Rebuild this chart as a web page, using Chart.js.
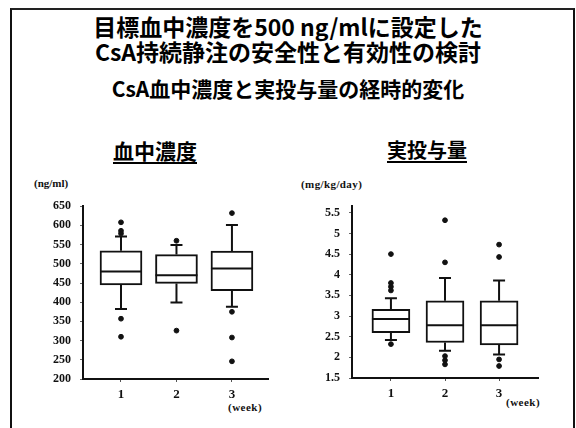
<!DOCTYPE html>
<html lang="ja">
<head>
<meta charset="utf-8">
<script src="https://cdn.jsdelivr.net/npm/chart.js@4.4.1/dist/chart.umd.min.js"></script>
<style>
  html, body { margin: 0; padding: 0; background: #fff; }
  body { width: 576px; height: 428px; position: relative; overflow: hidden;
         font-family: "Noto Sans CJK JP", "Noto Sans", sans-serif; color: #000; }
  .frame { position: absolute; left: 10px; top: 8px; width: 561px; height: 440px;
           border-left: 2px solid #111; border-top: 2px solid #222; border-right: 2px solid #111; }
  .t { position: absolute; left: 0; width: 576px; text-align: center; font-weight: 700;
       white-space: nowrap; line-height: 1; }
  .sub { position: absolute; font-weight: 700; text-decoration: underline;
         text-underline-offset: 3px; text-decoration-thickness: 2px; white-space: nowrap; line-height: 1; }
  .unit, .wk { position: absolute; font-family: "Liberation Serif", serif; font-weight: 700;
               font-size: 11px; white-space: nowrap; line-height: 1; color: #111; }
  canvas { position: absolute; }
</style>
</head>
<body>
<div class="frame"></div>
<div class="t" style="top:15px;font-size:23px;">目標血中濃度を500 ng/mlに設定した</div>
<div class="t" style="top:40px;font-size:23px;">CsA持続静注の安全性と有効性の検討</div>
<div class="t" style="top:78px;font-size:21px;">CsA血中濃度と実投与量の経時的変化</div>
<div class="sub" style="left:113px;top:140px;font-size:21px;">血中濃度</div>
<div class="sub" style="left:387px;top:140px;font-size:20px;">実投与量</div>
<div class="unit" style="left:34px;top:178px;">(ng/ml)</div>
<div class="unit" style="left:301px;top:179px;letter-spacing:0.4px;">(mg/kg/day)</div>
<div class="wk" style="left:228px;top:402px;letter-spacing:0.5px;">(week)</div>
<div class="wk" style="left:506px;top:397px;letter-spacing:0.5px;">(week)</div>

<canvas id="conc" width="260" height="230" style="left:20px;top:190px;"></canvas>
<canvas id="dose" width="260" height="230" style="left:290px;top:190px;"></canvas>

<script>
// Weeks of continuous infusion
const weeks = [1, 2, 3];

// CsA blood concentration (ng/ml): box-plot statistics per week
const concWhiskerLow  = [382, 399, 388];
const concQ1          = [445, 449, 430];
const concMedian      = [480, 470, 488];
const concQ3          = [534, 524, 533];
const concWhiskerHigh = [571, 549, 601];
const concOutliers    = [[608, 586, 579, 357, 310], [560, 326], [632, 375, 308, 246]];
const concTicks       = [200, 250, 300, 350, 400, 450, 500, 550, 600, 650];

// Actual dose given (mg/kg/day): box-plot statistics per week
const doseWhiskerLow  = [2.42, 2.16, 2.07];
const doseQ1          = [2.60, 2.36, 2.30];
const doseMedian      = [2.93, 2.78, 2.78];
const doseQ3          = [3.16, 3.37, 3.37];
const doseWhiskerHigh = [3.43, 3.92, 3.86];
const doseOutliers    = [[4.50, 3.80, 3.71, 3.62, 2.32], [5.32, 4.30, 2.03, 1.93, 1.83], [4.73, 4.43, 1.95, 1.79]];
const doseTicks       = [1.5, 2, 2.5, 3, 3.5, 4, 4.5, 5, 5.5];

const INK = '#111';

// Whiskers, caps and median lines, positioned through the chart's scales
const boxWhiskers = {
  id: 'boxWhiskers',
  beforeDatasetsDraw(chart, args, opts) {
    const { ctx, scales: { x, y } } = chart;
    ctx.save();
    ctx.strokeStyle = INK;
    ctx.lineWidth = opts.lineWidth;
    opts.x.forEach((v, i) => {
      const px = x.getPixelForValue(v);
      const segs = [[opts.q3[i], opts.high[i]], [opts.q1[i], opts.low[i]]];
      segs.forEach(([from, to]) => {
        const y0 = y.getPixelForValue(from), y1 = y.getPixelForValue(to);
        ctx.beginPath();
        ctx.moveTo(px, y0);
        ctx.lineTo(px, y1);
        ctx.moveTo(px - opts.capWidth / 2, y1);
        ctx.lineTo(px + opts.capWidth / 2, y1);
        ctx.stroke();
      });
    });
    ctx.restore();
  },
  afterDatasetsDraw(chart, args, opts) {
    const { ctx, scales: { y } } = chart;
    const bars = chart.getDatasetMeta(0).data;
    ctx.save();
    ctx.strokeStyle = INK;
    ctx.lineWidth = opts.lineWidth;
    opts.median.forEach((m, i) => {
      const bar = bars[i];
      const py = y.getPixelForValue(m);
      ctx.beginPath();
      ctx.moveTo(bar.x - bar.width / 2, py);
      ctx.lineTo(bar.x + bar.width / 2, py);
      ctx.stroke();
    });
    ctx.restore();
  }
};

function boxChart(id, s) {
  const boxes = weeks.map((w, i) => ({ x: w, y: [s.q1[i], s.q3[i]] }));
  const outliers = [];
  weeks.forEach((w, i) => s.outliers[i].forEach(v => outliers.push({ x: w, y: v })));

  return new Chart(document.getElementById(id), {
    type: 'bar',
    data: {
      datasets: [
        { type: 'bar', data: boxes, backgroundColor: '#fff', borderColor: INK,
          borderWidth: 2, borderSkipped: false, barThickness: s.boxWidth },
        { type: 'scatter', data: outliers, backgroundColor: INK, borderColor: INK,
          pointRadius: 2.4, pointHoverRadius: 2.4 }
      ]
    },
    options: {
      responsive: false,
      animation: false,
      events: [],
      layout: { padding: s.padding },
      plugins: {
        legend: { display: false },
        tooltip: { enabled: false },
        boxWhiskers: { x: weeks, low: s.low, q1: s.q1, median: s.median, q3: s.q3, high: s.high,
                       capWidth: 12, lineWidth: 2 }
      },
      scales: {
        x: {
          type: 'linear', min: s.xMin, max: s.xMax, offset: false,
          afterBuildTicks: sc => { sc.ticks = weeks.map(v => ({ value: v })); },
          afterFit: sc => { sc.height = s.xAxisHeight; },
          border: { display: true, color: INK, width: 2 },
          grid: { offset: false, drawOnChartArea: false, drawTicks: true, tickLength: 3, color: '#555', lineWidth: 1 },
          ticks: { color: INK, padding: 5, font: { family: 'Liberation Serif', size: 13, weight: 'bold' },
                   callback: v => String(v) }
        },
        y: {
          min: s.yMin, max: s.yMax,
          afterBuildTicks: sc => { sc.ticks = s.ticks.map(v => ({ value: v })); },
          afterFit: sc => { sc.width = s.yAxisWidth; },
          border: { display: true, color: INK, width: 2 },
          grid: { drawOnChartArea: false, drawTicks: true, tickLength: 3, color: '#666', lineWidth: 1 },
          ticks: { color: INK, padding: 9, font: { family: 'Liberation Serif', size: 12, weight: 'bold' },
                   callback: v => String(v) }
        }
      }
    },
    plugins: [boxWhiskers]
  });
}

boxChart('conc', {
  low: concWhiskerLow, q1: concQ1, median: concMedian, q3: concQ3, high: concWhiskerHigh,
  outliers: concOutliers, ticks: concTicks, yMin: 200, yMax: 650,
  xMin: 0.315, xMax: 3.65, boxWidth: 42,
  yAxisWidth: 63, xAxisHeight: 41,
  padding: { left: 0, right: 12, top: 12, bottom: 0 }
});

boxChart('dose', {
  low: doseWhiskerLow, q1: doseQ1, median: doseMedian, q3: doseQ3, high: doseWhiskerHigh,
  outliers: doseOutliers, ticks: doseTicks, yMin: 1.5, yMax: 5.66,
  xMin: 0.28, xMax: 3.72, boxWidth: 38,
  yAxisWidth: 62, xAxisHeight: 42,
  padding: { left: 0, right: 12, top: 12, bottom: 0 }
});
</script>
</body>
</html>
